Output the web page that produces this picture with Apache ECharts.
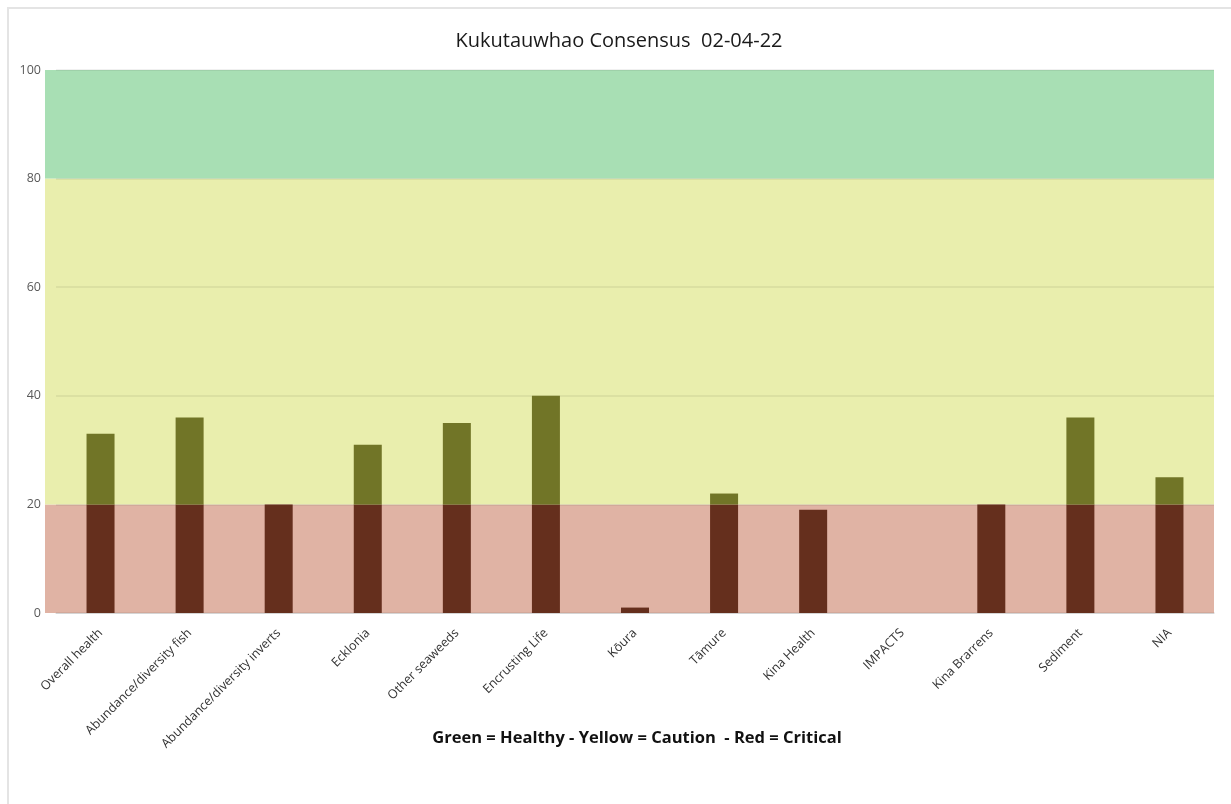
<!DOCTYPE html>
<html>
<head>
<meta charset="utf-8">
<script src="https://cdn.jsdelivr.net/npm/echarts@6/dist/echarts.min.js"></script>
<style>
  html, body { margin: 0; padding: 0; background: #fff; }
  #chart { width: 1231px; height: 804px; }
  /* light frame on the left and top */
  .frame {
    position: absolute; left: 7px; top: 7px; width: 1240px; height: 820px;
    border-left: 2px solid #e4e4e4; border-top: 2px solid #e4e4e4;
    pointer-events: none;
  }
</style>
</head>
<body>
<div id="chart"></div>
<div class="frame"></div>
<script>
// categories and scores
const categories = [
  "Overall health",
  "Abundance/diversity fish",
  "Abundance/diversity inverts",
  "Ecklonia",
  "Other seaweeds",
  "Encrusting Life",
  "Kōura",
  "Tāmure",
  "Kina Health",
  "IMPACTS",
  "Kina Brarrens",
  "Sediment",
  "NIA",
];
const scores = [33, 36, 20, 31, 35, 40, 1, 22, 19, 0, 20, 36, 25];

// band sizes (critical / caution / healthy), stacked from 0 to 100
const bandNames = ["Critical", "Caution", "Healthy"];
const bandSizes = [20, 60, 20];
const criticalLimit = 20;

const yTicks = [0, 20, 40, 60, 80, 100];

// bar split at the critical limit so the two parts can take their own colour
const lowPart = scores.map((v) => Math.min(v, criticalLimit));
const highPart = scores.map((v) => Math.max(v - criticalLimit, 0));

const bandColors = ["#e0b3a4", "#e9eead", "#a8dfb4"];

const chart = echarts.init(document.getElementById("chart"));
chart.setOption({
  animation: false,
  textStyle: { fontFamily: "Open Sans" },
  title: [
    {
      text: "Kukutauwhao Consensus  02-04-22",
      left: 614,
      top: 26,
      textAlign: "center",
      textStyle: { fontSize: 20, fontWeight: "normal", color: "#1a1a1a", fontFamily: "Open Sans" },
    },
    {
      text: "Green = Healthy - Yellow = Caution  - Red = Critical",
      left: 632,
      top: 725,
      textAlign: "center",
      textStyle: { fontSize: 16.5, fontWeight: "bold", color: "#111", fontFamily: "Open Sans" },
    },
  ],
  grid: [
    // background bands
    { left: 45, right: 17, top: 70, bottom: 191 },
    // scores
    { left: 56, right: 17, top: 70, bottom: 191 },
  ],
  xAxis: [
    { gridIndex: 0, type: "category", data: ["band"], show: false },
    {
      gridIndex: 1,
      type: "category",
      data: categories,
      axisLine: { lineStyle: { color: "#d9d9d9", width: 1.5 } },
      axisTick: { show: false },
      axisLabel: {
        rotate: 45,
        interval: 0,
        margin: 18,
        fontSize: 12.5,
        color: "#333",
      },
    },
  ],
  yAxis: [
    { gridIndex: 0, type: "value", min: 0, max: 100, show: false },
    {
      gridIndex: 1,
      type: "value",
      z: 2,
      min: yTicks[0],
      max: yTicks[yTicks.length - 1],
      interval: 20,
      axisLine: { show: false },
      axisTick: { show: false },
      axisLabel: { margin: 15, fontSize: 12.5, color: "#595959" },
      splitLine: { lineStyle: { color: "rgba(0,0,0,0.08)", width: 1.5 } },
    },
  ],
  series: [
    ...bandSizes.map((v, i) => ({
      name: bandNames[i],
      type: "bar",
      xAxisIndex: 0,
      yAxisIndex: 0,
      stack: "band",
      barWidth: "100%",
      silent: true,
      z: 0,
      data: [v],
      itemStyle: { color: bandColors[i] },
    })),
    {
      name: "low",
      type: "bar",
      xAxisIndex: 1,
      yAxisIndex: 1,
      stack: "score",
      barWidth: 28,
      z: 3,
      data: lowPart,
      itemStyle: { color: "#652f1d" },
    },
    {
      name: "high",
      type: "bar",
      xAxisIndex: 1,
      yAxisIndex: 1,
      stack: "score",
      barWidth: 28,
      z: 3,
      data: highPart,
      itemStyle: { color: "#717527" },
    },
  ],
});
</script>
</body>
</html>
